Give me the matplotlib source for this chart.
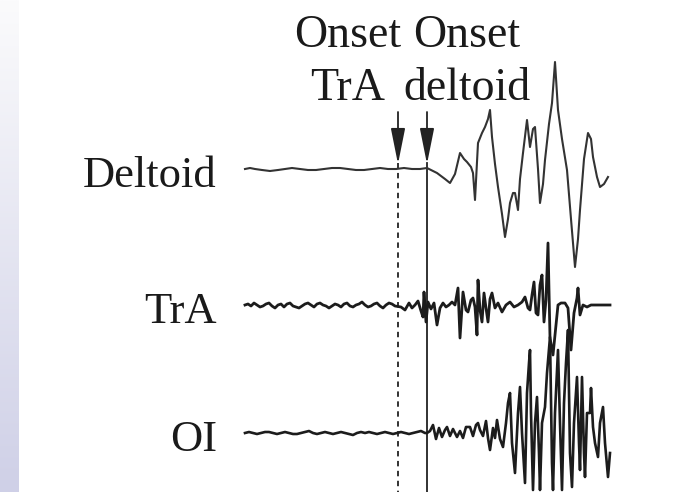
import numpy as np
import matplotlib
matplotlib.use("Agg")
import matplotlib.pyplot as plt

# Channel names and baselines (trace offsets on the page)
channels = ["Deltoid", "TrA", "OI"]
baselines = [169, 305, 433]

# Onset markers (time units)
onset_tra = 398
onset_deltoid = 427

# Deltoid: quiet baseline then large slow waves
deltoid_pre_t = [245, 250, 255, 262, 270, 278, 285, 292, 300, 308, 316, 324, 332,
                 340, 348, 356, 364, 372, 380, 388, 396, 404, 412, 420, 427]
deltoid_pre_v = [0, 1, 0, -1, -2, -1, 0, 1, 0, -1, -1, 0, 1,
                 1, 0, -1, -1, 0, 1, 0, 0, 1, 0, 0, 1]
deltoid_post = [
    (437, -4), (445, -10), (450, -14), (455, -5), (460, 16), (464, 10), (467, 7),
    (471, 2), (473, -4), (475, -31), (478, 26), (482, 36), (485, 42), (488, 50),
    (490, 59), (492, 32), (495, 5), (498, -18), (502, -45), (505, -68), (508, -50),
    (510, -34), (513, -24), (515, -24), (518, -41), (520, -10), (523, 16), (527, 49),
    (530, 22), (533, 40), (535, 42), (538, 0), (540, -34), (543, -15), (545, 9),
    (549, 45), (552, 66), (555, 107), (558, 59), (562, 30), (567, -1), (571, -50),
    (575, -98), (578, -70), (580, -41), (584, 10), (588, 36), (591, 30), (593, 12),
    (597, -8), (600, -18), (604, -15), (608, -8),
]

# TrA: noisy baseline, bursts after onset
tra_pre_v = [0, 1, -1, 2, 0, -2, -1, 1, 2, -1,
             -3, 0, 1, -2, 1, 2, -1, -2, -3, -1,
             1, 2, 0, -2, 1, 2, 0, -1, -3, -1,
             1, 0, -2, 1, 2, -1, -2, 0, 1, 3,
             0, -2, -1, 1, 2, -1, -3, 0, 2, 1, -1]
tra_post = [
    (398, 10), (401, -2), (405, -5), (409, 2), (412, -3), (415, 0), (418, 4),
    (421, -6), (423, -12), (424, 13), (426, -17), (428, 3), (431, -4), (434, 2),
    (437, -20), (440, -3), (443, 2), (446, -2), (449, 0), (452, 3), (455, 0),
    (458, 17), (460, -33), (463, 13), (466, -5), (468, -7), (471, 5), (473, 7),
    (475, -2), (477, -30), (478, 25), (480, -5), (482, -17), (484, 12), (486, -3),
    (488, -17), (490, 6), (492, 12), (495, -3), (498, 2), (502, -7), (506, 0),
    (510, 3), (514, -2), (518, 0), (522, 3), (525, 8), (528, -3), (530, -5),
    (532, 10), (534, 23), (536, -8), (538, -10), (540, 20), (542, 30), (544, -17),
    (546, 5), (548, 62), (550, -33), (553, -50), (556, -20), (558, 0), (561, 2),
    (565, 2), (568, -3), (571, -45), (574, -8), (577, 7), (578, 17), (580, -10),
    (583, 0), (587, -2), (591, 0), (595, 0), (600, 0), (605, 0), (610, 0),
]

# OI: quiet, small activity after deltoid onset, then large burst
oi_pre_v = [0, 1, 0, -1, 0, 1, 1, 0, -1, 0,
            1, 0, -1, -1, 0, 1, 2, 0, -1, 0,
            1, 0, -1, 0, 1, 0, -1, -2, 0, 1,
            0, 1, 0, -1, 0, 1, 0, -1, 0, 1,
            0, -1, 0, 1, 2, 0]
oi_post = [
    (427, 0), (430, 2), (433, 8), (436, -6), (439, 5), (442, -4), (445, 3),
    (447, 6), (450, -3), (453, 4), (457, -4), (460, 2), (463, -5), (466, 6),
    (470, 6), (473, -3), (476, 8), (478, 10), (480, 3), (483, -3), (486, 12),
    (488, -5), (490, -17), (493, 5), (495, -5), (497, 13), (500, -6), (503, -14),
    (506, 10), (508, 30), (510, 40), (512, -10), (515, -40), (518, 20), (520, 46),
    (522, 0), (525, -50), (527, 40), (529, 70), (530, 83), (531, 20), (533, -57),
    (535, 10), (537, 36), (539, -20), (540, -57), (542, 10), (545, 26), (547, 60),
    (550, 96), (552, -30), (553, -57), (555, 20), (558, 83), (560, 10), (562, -57),
    (564, 30), (566, 70), (568, 103), (570, -20), (572, -54), (574, 10), (577, 56),
    (579, -10), (580, -37), (582, 56), (584, -20), (585, -44), (587, 20), (590, 20),
    (591, 45), (593, 6), (595, -10), (598, -24), (600, 10), (603, 26), (605, -10),
    (608, -44), (610, -20),
]


def build(pre_t, pre_v, post):
    t = list(pre_t) + [p[0] for p in post]
    v = list(pre_v) + [p[1] for p in post]
    return np.array(t, float), np.array(v, float)


traces = [
    build(deltoid_pre_t, deltoid_pre_v, deltoid_post),
    build(np.arange(245, 396, 3), tra_pre_v, tra_post[1:]),
    build(np.arange(245, 426, 4), oi_pre_v, oi_post),
]
widths = [1.5, 2.0, 1.9]
colors = ["#333333", "#1c1c1c", "#1c1c1c"]

plt.rcParams["font.family"] = ["Liberation Serif", "DejaVu Serif"]

fig = plt.figure(figsize=(6.82, 4.92), dpi=100)
ax = fig.add_axes([0, 0, 1, 1])
ax.set_xlim(0, 682)
ax.set_ylim(492, 0)
ax.axis("off")

# lavender gradient strip on the left edge
grad = np.linspace(0, 1, 256).reshape(-1, 1)
cmap = matplotlib.colors.LinearSegmentedColormap.from_list("strip", ["#fbfbfc", "#cfd0e7"])
ax.imshow(grad, extent=[0, 19, 492, 0], cmap=cmap, aspect="auto", zorder=0)

ink = "#222222"
for name, base, (t, v), lw, c in zip(channels, baselines, traces, widths, colors):
    ax.plot(t, base - v, color=c, lw=lw, solid_joinstyle="round", zorder=3)
    ax.text(217, base + 7, name, ha="right", va="center", fontsize=32, color="#1a1a1a")

# onset lines
ax.plot([onset_tra, onset_tra], [163, 492], color=ink, lw=1.3, ls=(0, (3, 2.5)))
ax.plot([onset_deltoid, onset_deltoid], [163, 492], color=ink, lw=1.3)

# arrows and labels
for x in (onset_tra, onset_deltoid):
    ax.annotate("", xy=(x, 164), xytext=(x, 112),
                arrowprops=dict(arrowstyle="-|>,head_length=1.1,head_width=0.22",
                                color=ink, lw=1.3, mutation_scale=20,
                                shrinkA=0, shrinkB=0))
ax.text(348, 62, "Onset\nTrA", ha="center", va="center", fontsize=33,
        linespacing=1.33, color="#1a1a1a")
ax.text(467, 62, "Onset\ndeltoid", ha="center", va="center", fontsize=33,
        linespacing=1.33, color="#1a1a1a")

fig.savefig("out.png", dpi=100, facecolor="white")
